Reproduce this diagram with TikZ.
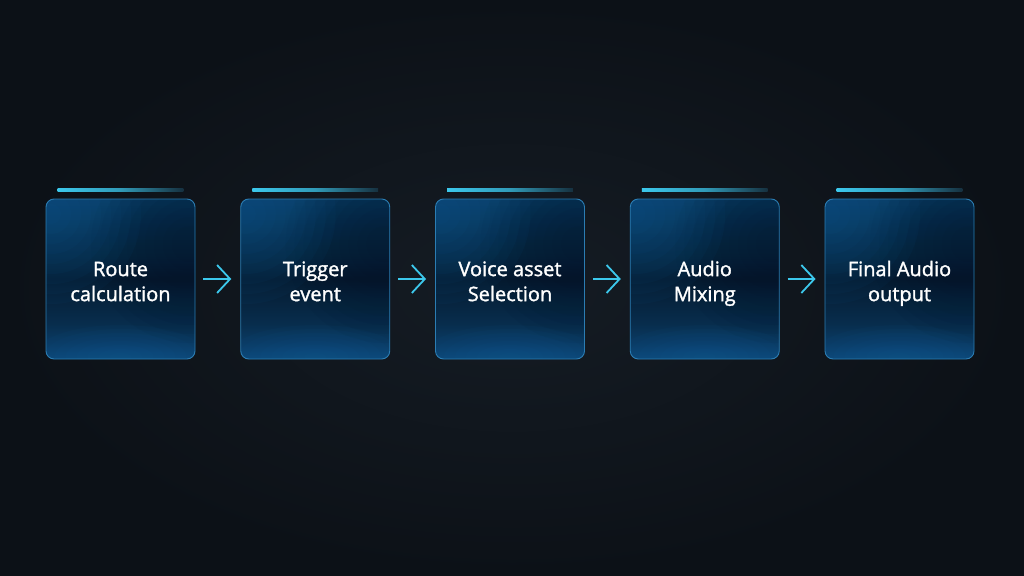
\documentclass[tikz,border=0pt]{standalone}
\usepackage{fontspec}
\setmainfont{Open Sans}
\newfontfamily\boxfont{Open Sans}[FakeBold=1.5]
\usetikzlibrary{arrows.meta,calc}
\definecolor{bgin}{HTML}{151C24}
\definecolor{bgout}{HTML}{0C1117}
\definecolor{edge}{HTML}{2B7DB3}
\definecolor{cyanA}{HTML}{3CC8EC}
\definecolor{barend}{HTML}{16303F}
\definecolor{bsA}{HTML}{0A3C64}
\definecolor{bsB}{HTML}{072B48}
\definecolor{bsC}{HTML}{051B30}
\definecolor{bsD}{HTML}{082D4D}
\definecolor{bsE}{HTML}{0C4777}
\definecolor{glow}{HTML}{1466A6}
\definecolor{deep}{HTML}{04152A}
\pgfdeclareverticalshading{boxshade}{100bp}{%
  color(0bp)=(bsE);
  color(25bp)=(bsE);
  color(36bp)=(bsD);
  color(50bp)=(bsC);
  color(62bp)=(bsB);
  color(75bp)=(bsA);
  color(100bp)=(bsA)}
\tikzset{
  stepbox/.style={draw=edge, line width=0.9pt, rounded corners=8pt,
    minimum width=149pt, minimum height=160pt, inner sep=0pt,
    shading=boxshade, shading angle=0,
    path picture={
      \foreach \r in {110,100,...,20}{
        \fill[deep, opacity=0.06]
          ($(path picture bounding box.north east)+(-5,45)$) circle (\r*0.9);
      }
      \foreach \r in {90,80,...,10}{
        \fill[glow, opacity=0.05]
          ($(path picture bounding box.north west)+(5,15)$) circle (\r);
      }
      \foreach \r in {80,70,...,10}{
        \fill[glow, opacity=0.045]
          ($(path picture bounding box.south)+(0,-2)$) ellipse (\r*1.1 and \r*0.4);
      }
    }},
  lbl/.style={text=white, font=\boxfont\fontsize{20}{25}\selectfont, align=center, inner sep=0pt},
  arr/.style={draw=cyanA, line width=1.8pt,
    -{Straight Barb[length=13pt,width=28pt,line width=1.8pt]},
    shorten <=8pt, shorten >=9pt},
  topbar/.style={left color=cyanA, right color=barend, middle color=cyanA!70!barend, draw=none}
}
\begin{document}
\begin{tikzpicture}[x=1pt,y=-1pt]
\useasboundingbox (0,0) rectangle (1024,575);
\shade[inner color=bgin, outer color=bgout] (0,0) rectangle (1024,575);
\foreach \i/\ta/\tb [count=\k] in {0/Route/calculation,1/Trigger/event,2/Voice asset/Selection,3/Audio/Mixing,4/Final Audio/output}{
  \node[stepbox] (b\k) at (120.5+194.75*\i,279) {};
  \node[lbl] (t\k) at ($(b\k.center)+(0,4.6)$) {\strut\ta\\\strut\tb};
  \shade[topbar] ($(b\k.north west)+(12,-10.5)$) rectangle ($(b\k.north east)+(-12,-7.5)$);
}
\foreach \a/\b in {1/2,2/3,3/4,4/5}{
  \draw[arr] (b\a.east) -- (b\b.west);
}
\end{tikzpicture}
\end{document}
